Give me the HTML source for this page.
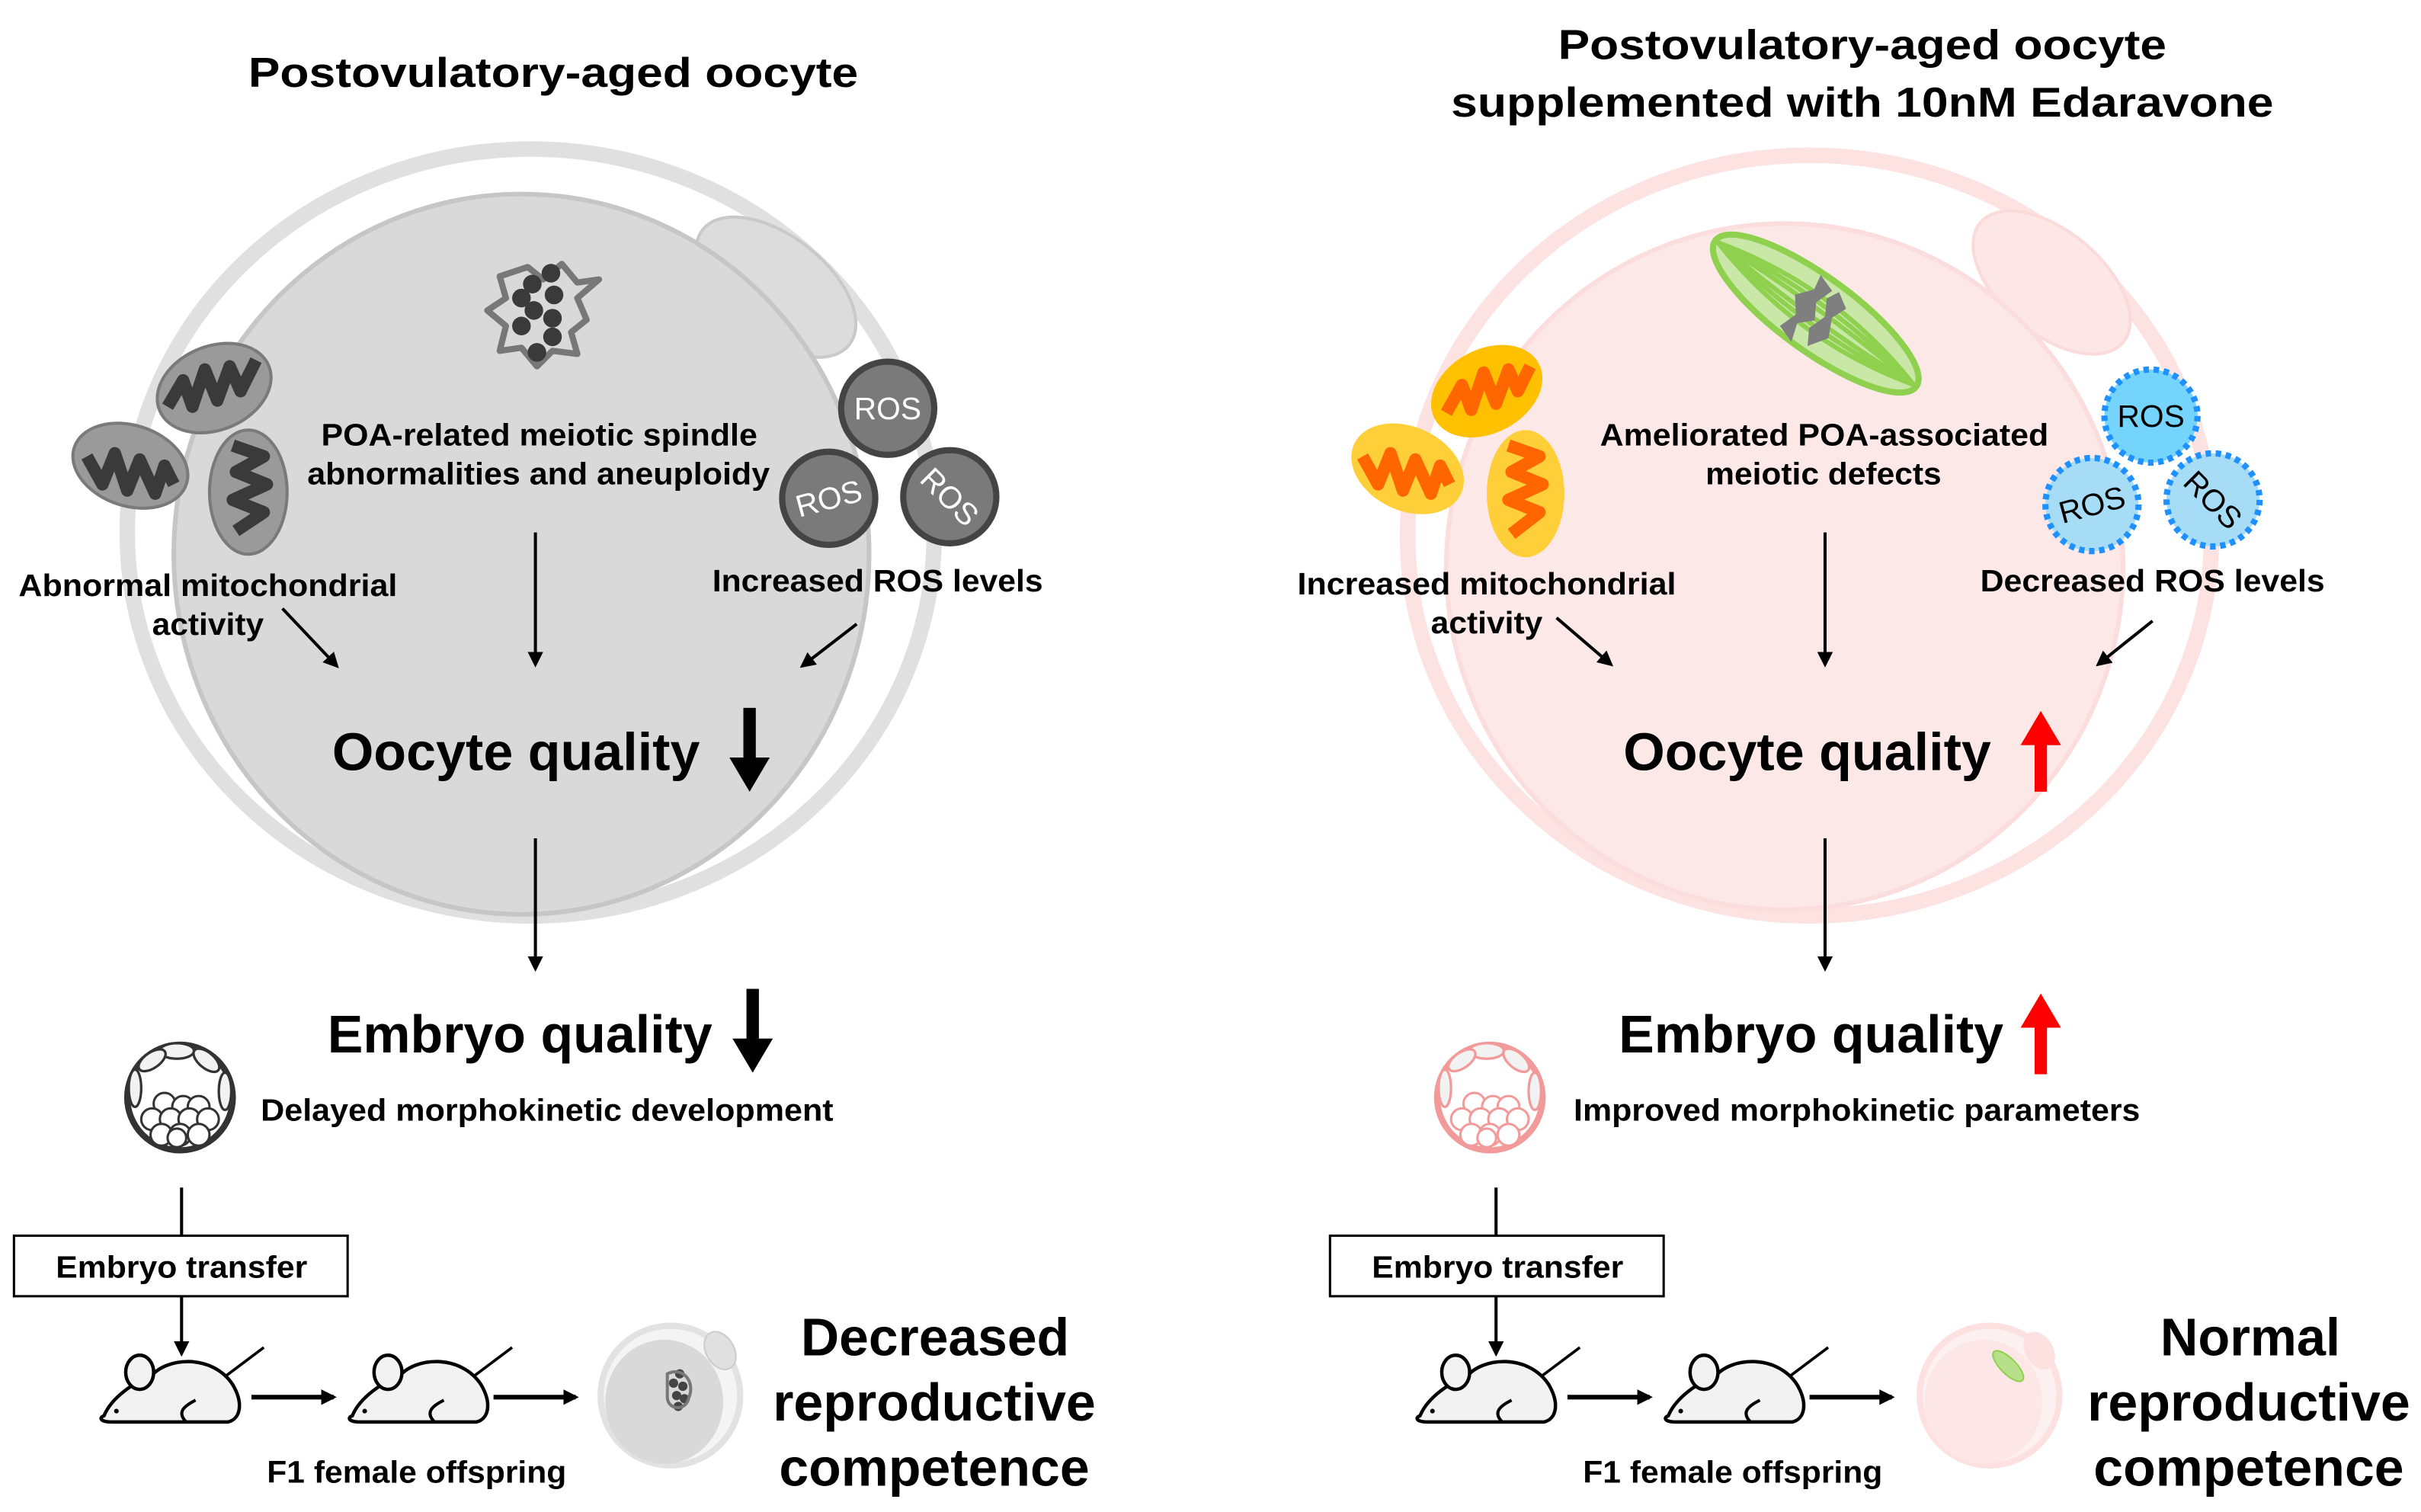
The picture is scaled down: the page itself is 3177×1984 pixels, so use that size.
<!DOCTYPE html>
<html><head><meta charset="utf-8"><style>
html,body{margin:0;padding:0;background:#fff}
svg{display:block}
text{font-family:"Liberation Sans",Arial,sans-serif;font-weight:bold;fill:#000}
</style></head><body>
<svg width="3177" height="1984" viewBox="0 0 1560 974" preserveAspectRatio="none" xmlns="http://www.w3.org/2000/svg">
<defs>
<marker id="ah" markerWidth="10" markerHeight="10" refX="8" refY="5" orient="auto" markerUnits="userSpaceOnUse"><path d="M0,0 L10,5 L0,10 z" fill="#000"/></marker>
<g id="embryo">
<circle cx="0" cy="0" r="34" fill="#fff" stroke="currentColor" stroke-width="4"/>
<g fill="#f2f2f2" stroke="currentColor" stroke-width="1.6">
<ellipse cx="-2" cy="-30" rx="11" ry="5"/><ellipse cx="-18" cy="-24" rx="10" ry="5" transform="rotate(-35 -18 -24)"/>
<ellipse cx="17" cy="-24" rx="10" ry="5" transform="rotate(40 17 -24)"/><ellipse cx="-29" cy="-6" rx="4" ry="12"/>
<ellipse cx="29" cy="-4" rx="4" ry="12"/>
</g>
<g fill="#fff" stroke="currentColor" stroke-width="1.5">
<circle cx="-10" cy="4" r="7"/><circle cx="2" cy="6" r="7"/><circle cx="12" cy="6" r="7"/><circle cx="-18" cy="14" r="7"/><circle cx="-6" cy="14" r="7"/><circle cx="6" cy="14" r="7"/><circle cx="18" cy="14" r="7"/><circle cx="-12" cy="24" r="7"/><circle cx="0" cy="24" r="7"/><circle cx="12" cy="24" r="7"/><circle cx="-2" cy="26" r="6"/>
</g>
</g>
<g id="mouse">
<path d="M-45,20 C-40,8 -25,-2 -15,-5 C-5,-18 25,-20 38,0 C45,12 43,22 35,24 L-40,24 C-48,24 -48,21 -45,20 Z" fill="#f2f2f2" stroke="#000" stroke-width="2.2"/>
<ellipse cx="-22" cy="-8" rx="9" ry="11" fill="#f2f2f2" stroke="#000" stroke-width="2.2"/>
<path d="M14,10 C6,14 2,18 8,24" fill="none" stroke="#000" stroke-width="2"/>
<path d="M34,-6 L58,-24" stroke="#000" stroke-width="1.8"/>
<circle cx="-37" cy="17" r="1.5" fill="#000"/>
</g>
</defs>

<!-- LEFT PANEL -->
<text x="160" y="56" font-size="27" textLength="393" lengthAdjust="spacingAndGlyphs">Postovulatory-aged oocyte</text>
<ellipse cx="342" cy="343" rx="260" ry="247" fill="none" stroke="#e0e0e0" stroke-width="10"/>
<ellipse cx="500" cy="185" rx="60" ry="33" transform="rotate(38 500 185)" fill="#dcdcdc" stroke="#c9c9c9" stroke-width="2"/>
<ellipse cx="336" cy="357" rx="224" ry="232" fill="#d9d9d9" stroke="#c6c6c6" stroke-width="3"/>
<!-- spindle -->
<g>
<path d="M322,178 L340,172 L350,180 L362,170 L372,182 L386,180 L372,192 L378,206 L368,214 L372,228 L356,226 L346,236 L336,224 L322,226 L326,210 L314,200 L326,192 Z" fill="none" stroke="#777" stroke-width="4" stroke-linejoin="round"/>
<g fill="#3a3a3a"><circle cx="355" cy="176" r="6"/><circle cx="343" cy="183" r="6"/><circle cx="336" cy="192" r="6"/><circle cx="357" cy="190" r="6"/><circle cx="344" cy="200" r="6"/><circle cx="356" cy="205" r="6"/><circle cx="336" cy="210" r="6"/><circle cx="356" cy="217" r="6"/><circle cx="346" cy="227" r="6"/></g>
</g>
<!-- mitochondria left -->
<g stroke="#7a7a7a" stroke-width="2" fill="#9a9a9a">
<ellipse cx="138" cy="250" rx="38" ry="27" transform="rotate(-22 138 250)"/>
<ellipse cx="84" cy="300" rx="38" ry="26" transform="rotate(18 84 300)"/>
<ellipse cx="160" cy="317" rx="25" ry="40"/>
</g>
<g fill="none" stroke="#3a3a3a" stroke-width="8" stroke-linejoin="round">
<path d="M108,262 L118,245 L124,262 L132,238 L140,258 L148,236 L155,252 L165,232"/>
<path d="M56,294 L66,312 L74,292 L82,316 L90,296 L100,318 L106,300 L112,312"/>
<path d="M150,287 L170,294 L152,304 L172,312 L150,322 L170,330 L152,342"/>
</g>
<!-- ROS left -->
<g fill="#7a7a7a" stroke="#444" stroke-width="4">
<circle cx="572" cy="263" r="30"/><circle cx="534" cy="321" r="30"/><circle cx="612" cy="320" r="30"/>
</g>
<text x="572" y="270" text-anchor="middle" font-size="20" style="fill:#fff;font-weight:normal">ROS</text>
<text x="534" y="328" text-anchor="middle" font-size="20" transform="rotate(-15 534 321)" style="fill:#fff;font-weight:normal">ROS</text>
<text x="612" y="327" text-anchor="middle" font-size="20" transform="rotate(45 612 320)" style="fill:#fff;font-weight:normal">ROS</text>
<text x="207" y="287" font-size="20" textLength="281" lengthAdjust="spacingAndGlyphs">POA-related meiotic spindle</text>
<text x="198" y="312" font-size="20" textLength="298" lengthAdjust="spacingAndGlyphs">abnormalities and aneuploidy</text>
<text x="12" y="384" font-size="20" textLength="244" lengthAdjust="spacingAndGlyphs">Abnormal mitochondrial</text>
<text x="98" y="409" font-size="20" textLength="72" lengthAdjust="spacingAndGlyphs">activity</text>
<text x="459" y="381" font-size="20" textLength="213" lengthAdjust="spacingAndGlyphs">Increased ROS levels</text>
<g stroke="#000" stroke-width="2" marker-end="url(#ah)">
<line x1="182" y1="392" x2="217" y2="429"/>
<line x1="345" y1="343" x2="345" y2="428"/>
<line x1="552" y1="402" x2="517" y2="429"/>
<line x1="345" y1="540" x2="345" y2="624"/>
</g>
<text x="214" y="496" font-size="34" textLength="237" lengthAdjust="spacingAndGlyphs">Oocyte quality</text>
<rect x="479" y="456" width="8" height="36" fill="#000"/><path d="M470,488 L496,488 L483,510 Z" fill="#000"/>
<text x="211" y="678" font-size="34" textLength="248" lengthAdjust="spacingAndGlyphs">Embryo quality</text>
<rect x="481" y="637" width="8" height="36" fill="#000"/><path d="M472,669 L498,669 L485,691 Z" fill="#000"/>
<use href="#embryo" x="116" y="707" style="color:#333"/>
<text x="168" y="722" font-size="20" textLength="369" lengthAdjust="spacingAndGlyphs">Delayed morphokinetic development</text>
<line x1="117" y1="765" x2="117" y2="796" stroke="#000" stroke-width="2"/>
<rect x="9" y="796" width="215" height="39" fill="#fff" stroke="#000" stroke-width="1.5"/>
<text x="36" y="823" font-size="20" textLength="162" lengthAdjust="spacingAndGlyphs">Embryo transfer</text>
<line x1="117" y1="835" x2="117" y2="872" stroke="#000" stroke-width="2" marker-end="url(#ah)"/>
<use href="#mouse" x="112" y="892"/>
<use href="#mouse" x="272" y="892"/>
<line x1="162" y1="900" x2="215" y2="900" stroke="#000" stroke-width="3" marker-end="url(#ah)"/>
<line x1="318" y1="900" x2="371" y2="900" stroke="#000" stroke-width="3" marker-end="url(#ah)"/>
<circle cx="432" cy="899" r="45" fill="#f4f4f4" stroke="#e2e2e2" stroke-width="4"/>
<ellipse cx="428" cy="903" rx="38" ry="40" fill="#d9d9d9"/>
<ellipse cx="464" cy="870" rx="9" ry="13" transform="rotate(-30 464 870)" fill="#e0e0e0" stroke="#ccc"/>
<g fill="#444"><circle cx="438" cy="885" r="3"/><circle cx="434" cy="891" r="3"/><circle cx="440" cy="893" r="3"/><circle cx="436" cy="899" r="3"/><circle cx="441" cy="901" r="3"/><circle cx="437" cy="906" r="3"/></g>
<path d="M430,885 C440,880 448,890 444,900 C442,910 430,908 430,900Z" fill="none" stroke="#777" stroke-width="2"/>
<text x="172" y="955" font-size="20" textLength="193" lengthAdjust="spacingAndGlyphs">F1 female offspring</text>
<text x="516" y="873" font-size="34" textLength="173" lengthAdjust="spacingAndGlyphs">Decreased</text>
<text x="498" y="915" font-size="34" textLength="208" lengthAdjust="spacingAndGlyphs">reproductive</text>
<text x="502" y="957" font-size="34" textLength="200" lengthAdjust="spacingAndGlyphs">competence</text>

<!-- RIGHT PANEL -->
<text x="1004" y="38" font-size="27" textLength="392" lengthAdjust="spacingAndGlyphs">Postovulatory-aged oocyte</text>
<text x="935" y="75" font-size="27" textLength="530" lengthAdjust="spacingAndGlyphs">supplemented with 10nM Edaravone</text>
<ellipse cx="1166" cy="345" rx="259" ry="245" fill="none" stroke="#fde2e2" stroke-width="10"/>
<ellipse cx="1322" cy="182" rx="60" ry="33" transform="rotate(40 1322 182)" fill="#fde6e6" stroke="#fbdada" stroke-width="2"/>
<ellipse cx="1150" cy="365" rx="218" ry="221" fill="#fde8e8" stroke="#fbdddd" stroke-width="3"/>
<!-- spindle green -->
<g transform="rotate(36 1170 202)">
<ellipse cx="1170" cy="202" rx="80" ry="24" fill="#c9e8a8" stroke="#8fd14f" stroke-width="4"/>
<g stroke="#8fd14f" stroke-width="3" fill="none">
<path d="M1092,202 Q1170,180 1248,202"/><path d="M1092,202 Q1170,188 1248,202"/><path d="M1092,202 Q1170,196 1248,202"/><path d="M1092,202 Q1170,208 1248,202"/><path d="M1092,202 Q1170,216 1248,202"/><path d="M1092,202 Q1170,224 1248,202"/>
</g>
<g fill="#7f7f7f">
<path d="M1158,180 L1170,184 L1166,196 L1172,206 L1164,214 L1168,226 L1156,222 L1160,210 L1152,200 L1160,190Z"/>
<path d="M1174,182 L1184,188 L1180,198 L1186,210 L1178,222 L1172,212 L1176,200 L1170,190Z"/>
</g>
</g>
<!-- mitochondria right -->
<g stroke="none">
<ellipse cx="958" cy="252" rx="38" ry="27" transform="rotate(-28 958 252)" fill="#ffc000"/>
<ellipse cx="907" cy="302" rx="38" ry="27" transform="rotate(25 907 302)" fill="#ffcf3a"/>
<ellipse cx="983" cy="318" rx="25" ry="41" fill="#ffcf3a"/>
</g>
<g fill="none" stroke="#ff6600" stroke-width="8" stroke-linejoin="round">
<path d="M932,266 L942,248 L948,264 L956,240 L964,260 L972,238 L978,252 L986,236"/>
<path d="M878,294 L888,312 L896,292 L904,316 L912,296 L922,318 L928,300 L934,312"/>
<path d="M972,287 L992,294 L974,304 L994,312 L972,322 L992,330 L974,344"/>
</g>
<!-- ROS right -->
<g stroke="#1e90ff" stroke-width="4" stroke-dasharray="3.5 3">
<circle cx="1386" cy="268" r="30" fill="#75d4fb"/><circle cx="1348" cy="325" r="30" fill="#a6dcf5"/><circle cx="1426" cy="322" r="30" fill="#a6dcf5"/>
</g>
<text x="1386" y="275" text-anchor="middle" font-size="20" style="font-weight:normal">ROS</text>
<text x="1348" y="332" text-anchor="middle" font-size="20" transform="rotate(-15 1348 325)" style="font-weight:normal">ROS</text>
<text x="1426" y="329" text-anchor="middle" font-size="20" transform="rotate(45 1426 322)" style="font-weight:normal">ROS</text>
<text x="1031" y="287" font-size="20" textLength="289" lengthAdjust="spacingAndGlyphs">Ameliorated POA-associated</text>
<text x="1099" y="312" font-size="20" textLength="152" lengthAdjust="spacingAndGlyphs">meiotic defects</text>
<text x="836" y="383" font-size="20" textLength="244" lengthAdjust="spacingAndGlyphs">Increased mitochondrial</text>
<text x="922" y="408" font-size="20" textLength="72" lengthAdjust="spacingAndGlyphs">activity</text>
<text x="1276" y="381" font-size="20" textLength="222" lengthAdjust="spacingAndGlyphs">Decreased ROS levels</text>
<g stroke="#000" stroke-width="2" marker-end="url(#ah)">
<line x1="1003" y1="398" x2="1038" y2="428"/>
<line x1="1176" y1="343" x2="1176" y2="428"/>
<line x1="1387" y1="400" x2="1352" y2="428"/>
<line x1="1176" y1="540" x2="1176" y2="624"/>
</g>
<text x="1046" y="496" font-size="34" textLength="237" lengthAdjust="spacingAndGlyphs">Oocyte quality</text>
<rect x="1311" y="476" width="8" height="34" fill="#f00"/><path d="M1302,480 L1328,480 L1315,458 Z" fill="#f00"/>
<text x="1043" y="678" font-size="34" textLength="248" lengthAdjust="spacingAndGlyphs">Embryo quality</text>
<rect x="1311" y="658" width="8" height="34" fill="#f00"/><path d="M1302,662 L1328,662 L1315,640 Z" fill="#f00"/>
<use href="#embryo" x="960" y="707" style="color:#f29a9a"/>
<text x="1014" y="722" font-size="20" textLength="365" lengthAdjust="spacingAndGlyphs">Improved morphokinetic parameters</text>
<line x1="964" y1="765" x2="964" y2="796" stroke="#000" stroke-width="2"/>
<rect x="857" y="796" width="215" height="39" fill="#fff" stroke="#000" stroke-width="1.5"/>
<text x="884" y="823" font-size="20" textLength="162" lengthAdjust="spacingAndGlyphs">Embryo transfer</text>
<line x1="964" y1="835" x2="964" y2="872" stroke="#000" stroke-width="2" marker-end="url(#ah)"/>
<use href="#mouse" x="960" y="892"/>
<use href="#mouse" x="1120" y="892"/>
<line x1="1010" y1="900" x2="1063" y2="900" stroke="#000" stroke-width="3" marker-end="url(#ah)"/>
<line x1="1166" y1="900" x2="1219" y2="900" stroke="#000" stroke-width="3" marker-end="url(#ah)"/>
<circle cx="1282" cy="899" r="45" fill="#fdf0f0" stroke="#fde0e0" stroke-width="4"/>
<ellipse cx="1278" cy="903" rx="38" ry="40" fill="#fde6e6"/>
<ellipse cx="1314" cy="870" rx="9" ry="13" transform="rotate(-30 1314 870)" fill="#fde0e0"/>
<ellipse cx="1294" cy="880" rx="13" ry="5" transform="rotate(45 1294 880)" fill="#b6e08a" stroke="#8fd14f"/>
<text x="1020" y="955" font-size="20" textLength="193" lengthAdjust="spacingAndGlyphs">F1 female offspring</text>
<text x="1392" y="873" font-size="34" textLength="116" lengthAdjust="spacingAndGlyphs">Normal</text>
<text x="1345" y="915" font-size="34" textLength="208" lengthAdjust="spacingAndGlyphs">reproductive</text>
<text x="1349" y="957" font-size="34" textLength="200" lengthAdjust="spacingAndGlyphs">competence</text>
</svg>
</body></html>
